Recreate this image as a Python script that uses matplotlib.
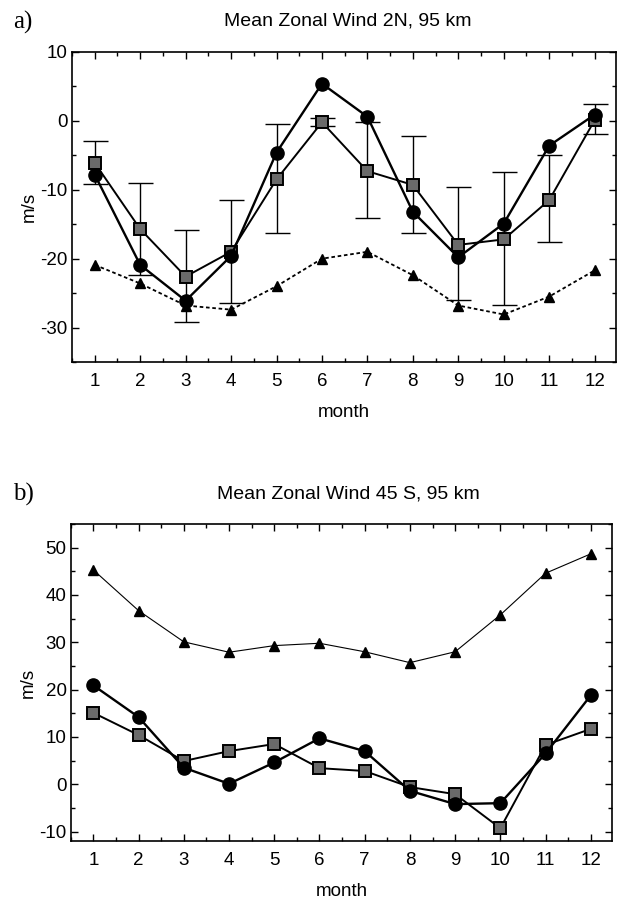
import matplotlib
matplotlib.use("Agg")
import matplotlib.pyplot as plt
from matplotlib.ticker import MultipleLocator

plt.rcParams['font.family'] = ['Liberation Sans', 'DejaVu Sans']
plt.rcParams['axes.unicode_minus'] = False

months = [1, 2, 3, 4, 5, 6, 7, 8, 9, 10, 11, 12]

# panel a: 2N, 95 km
a_circle = [-7.8, -20.9, -26.1, -19.6, -4.6, 5.4, 0.6, -13.2, -19.8, -14.9, -3.6, 0.9]
a_square = [-6.1, -15.7, -22.6, -19.0, -8.5, -0.2, -7.3, -9.3, -18.0, -17.2, -11.5, 0.1]
a_err_hi = [-2.9, -9.0, -15.9, -11.5, -0.4, 0.4, -0.1, -2.2, -9.6, -7.4, -5.0, 2.5]
a_err_lo = [-9.1, -22.3, -29.2, -26.4, -16.3, -0.8, -14.1, -16.3, -26.0, -26.7, -17.6, -1.9]
a_tri = [-20.9, -23.6, -26.8, -27.4, -24.0, -20.0, -19.0, -22.4, -26.8, -28.1, -25.5, -21.7]

# panel b: 45 S, 95 km
b_circle = [20.9, 14.2, 3.5, 0.1, 4.6, 9.7, 7.0, -1.4, -4.2, -4.0, 6.5, 18.8]
b_square = [15.1, 10.4, 4.9, 7.0, 8.5, 3.4, 2.8, -0.6, -2.1, -9.3, 8.3, 11.7]
b_tri = [45.3, 36.7, 30.1, 27.9, 29.3, 29.8, 28.0, 25.7, 28.0, 35.8, 44.6, 48.7]

sq_face = '#6a6a6a'

fig = plt.figure(figsize=(6.17, 8.99), dpi=100)
ax1 = fig.add_axes([0.1167, 0.5973, 0.8817, 0.3449])
ax2 = fig.add_axes([0.1146, 0.0645, 0.8774, 0.3526])


def style_axes(ax, ylim, major):
    ax.set_xlim(0.5, 12.47)
    ax.set_ylim(*ylim)
    ax.set_xticks(months)
    ax.xaxis.set_minor_locator(MultipleLocator(0.5))
    ax.yaxis.set_major_locator(MultipleLocator(major))
    ax.yaxis.set_minor_locator(MultipleLocator(major / 2))
    ax.tick_params(which='both', direction='in', top=True, right=True,
                   labelsize=13.5, width=1.0, pad=3)
    ax.tick_params(axis='x', pad=8)
    ax.tick_params(which='major', length=5)
    ax.tick_params(which='minor', length=3)
    for s in ax.spines.values():
        s.set_linewidth(1.2)
    ax.set_xlabel('month', fontsize=13.5, labelpad=10)
    ax.set_ylabel('m/s', fontsize=13.5, labelpad=2)


# panel a
yerr = [[s - lo for s, lo in zip(a_square, a_err_lo)],
        [hi - s for s, hi in zip(a_square, a_err_hi)]]
ax1.errorbar(months, a_square, yerr=yerr, fmt='none', ecolor='black',
             elinewidth=1.0, capsize=9, capthick=1.0, zorder=2)
ax1.plot(months, a_tri, color='black', linestyle=(0, (2, 1.5)), linewidth=1.3,
         marker='^', markersize=7, zorder=3)
ax1.plot(months, a_square, color='black', linewidth=1.4, marker='s',
         markersize=8.5, markerfacecolor=sq_face, markeredgecolor='black',
         markeredgewidth=1.4, zorder=4)
ax1.plot(months, a_circle, color='black', linewidth=1.7, marker='o',
         markersize=9.5, zorder=5)
style_axes(ax1, (-35, 10), 10)

# panel b
ax2.plot(months, b_tri, color='black', linewidth=0.8, marker='^',
         markersize=7.5, zorder=3)
ax2.plot(months, b_square, color='black', linewidth=1.4, marker='s',
         markersize=8.5, markerfacecolor=sq_face, markeredgecolor='black',
         markeredgewidth=1.4, zorder=4)
ax2.plot(months, b_circle, color='black', linewidth=1.7, marker='o',
         markersize=9.5, zorder=5)
style_axes(ax2, (-12, 55), 10)

fig.text(348 / 617, 1 - 21 / 899, 'Mean Zonal Wind 2N, 95 km', ha='center',
         va='center', fontsize=14)
fig.text(348 / 617, 1 - 494 / 899, 'Mean Zonal Wind 45 S, 95 km', ha='center',
         va='center', fontsize=14)
fig.text(23 / 617, 1 - 22 / 899, 'a)', ha='center', va='center', fontsize=18,
         family=['Liberation Serif', 'DejaVu Serif'])
fig.text(23 / 617, 1 - 494 / 899, 'b)', ha='center', va='center', fontsize=18,
         family=['Liberation Serif', 'DejaVu Serif'])

fig.savefig('out.png', dpi=100)
